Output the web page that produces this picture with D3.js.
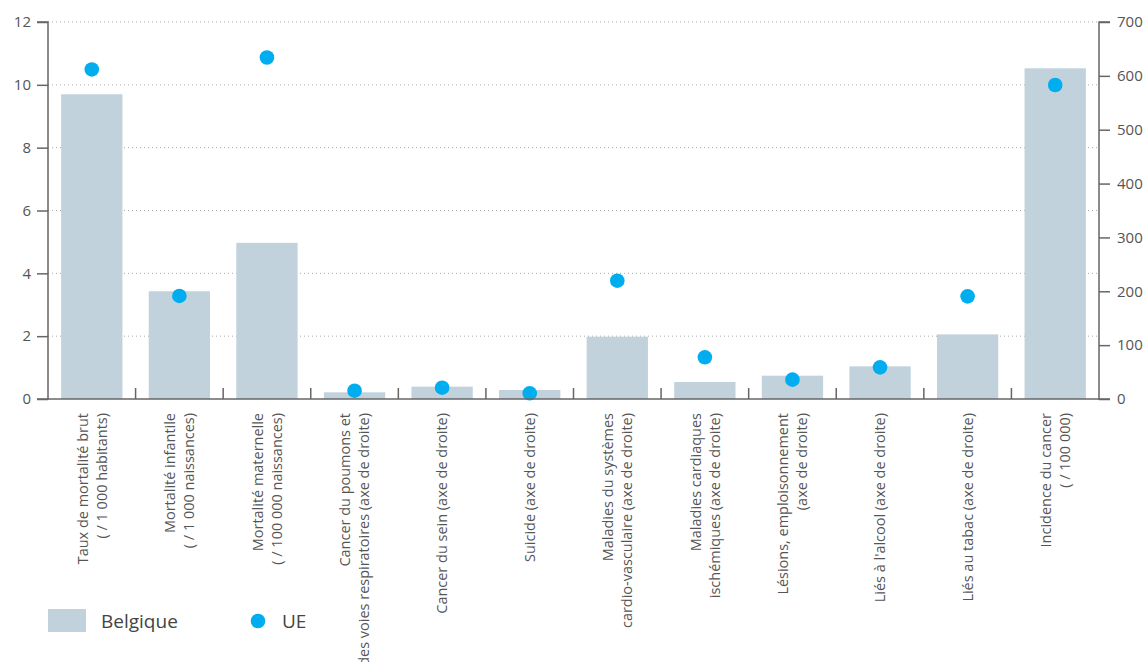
<!DOCTYPE html>
<html><head><meta charset="utf-8">
<script src="https://cdn.jsdelivr.net/npm/d3@7"></script>
<style>
body{margin:0;background:#fff;}
text{font-family:"Open Sans","Noto Sans",sans-serif;}
</style></head>
<body><svg id="c" width="1148" height="662"></svg>
<script>
const categories = [
  ["Taux de mortalité brut", "( / 1 000 habitants)"],
  ["Mortalité infantile", "( / 1 000 naissances)"],
  ["Mortalité maternelle", "( / 100 000 naissances)"],
  ["Cancer du poumons et", "des voies respiratoires (axe de droite)"],
  ["Cancer du sein (axe de droite)"],
  ["Suicide (axe de droite)"],
  ["Maladies du systèmes", "cardio-vasculaire (axe de droite)"],
  ["Maladies cardiaques", "ischémiques (axe de droite)"],
  ["Lésions, emploisonnement", "(axe de droite)"],
  ["Liés à l'alcool (axe de droite)"],
  ["Liés au tabac (axe de droite)"],
  ["Incidence du cancer", "( / 100 000)"]
];
const axisSide = ["left","left","left","right","right","right","right","right","right","right","right","right"];
const belgique = [9.7, 3.43, 4.97, 12.4, 22.9, 16.7, 115.7, 31.6, 43.3, 60.6, 120, 614];
const ue = [10.49, 3.28, 10.87, 15.4, 21, 10.6, 219.7, 77.4, 35.9, 58.8, 190.6, 583];
const leftTicks = [0, 2, 4, 6, 8, 10, 12];
const rightTicks = [0, 100, 200, 300, 400, 500, 600, 700];
const legendLabels = ["Belgique", "UE"];

const svg = d3.select("#c");
const L = 48, R = 1099, T = 22, B = 399;
const x = d3.scaleBand().domain(d3.range(categories.length)).range([L, R]).padding(0);
const yL = d3.scaleLinear().domain([0, 12]).range([B, T]);
const yR = d3.scaleLinear().domain([0, 700]).range([B, T]);
const ys = i => axisSide[i] === "left" ? yL : yR;
const barColor = "#c1d2dc", dotColor = "#00aeef", axisColor = "#666", textColor = "#555";

// grid
svg.append("g").selectAll("line").data(leftTicks.filter(d => d > 0)).join("line")
  .attr("x1", L).attr("x2", R).attr("y1", d => yL(d)).attr("y2", d => yL(d))
  .attr("stroke", "#aaa").attr("stroke-width", 1).attr("stroke-dasharray", "1,3");

// bars
const bw = x.bandwidth();
svg.append("g").selectAll("rect").data(belgique).join("rect")
  .attr("x", (d, i) => x(i) + bw * 0.15).attr("width", bw * 0.7)
  .attr("y", (d, i) => ys(i)(d)).attr("height", (d, i) => B - ys(i)(d))
  .attr("fill", barColor);

// dots
svg.append("g").selectAll("circle").data(ue).join("circle")
  .attr("cx", (d, i) => x(i) + bw / 2).attr("cy", (d, i) => ys(i)(d))
  .attr("r", 7.3).attr("fill", dotColor);

// left axis
const gl = svg.append("g").attr("transform", `translate(${L},0)`)
  .call(d3.axisLeft(yL).tickValues(leftTicks).tickSize(11).tickPadding(6).tickFormat(d3.format("d")));
// right axis
const gr = svg.append("g").attr("transform", `translate(${R},0)`)
  .call(d3.axisRight(yR).tickValues(rightTicks).tickSize(11).tickPadding(7).tickFormat(d3.format("d")));
[gl, gr].forEach(g => {
  g.select(".domain").attr("stroke", axisColor).attr("stroke-width", 1.5);
  g.selectAll(".tick line").attr("stroke", axisColor).attr("stroke-width", 1.5);
  g.selectAll(".tick text").attr("fill", textColor).style("font-size", "15px").attr("font-family", null);
});
gl.select(".domain").attr("d", `M-11,${T}H0V${B}H-11`);
gr.select(".domain").attr("d", `M11,${T}H0V${B}H11`);

// bottom axis line and separators
svg.append("line").attr("x1", L).attr("x2", R).attr("y1", B).attr("y2", B)
  .attr("stroke", axisColor).attr("stroke-width", 1.5);
svg.append("g").selectAll("line").data(d3.range(1, categories.length)).join("line")
  .attr("x1", d => x(d)).attr("x2", d => x(d)).attr("y1", B).attr("y2", B - 11)
  .attr("stroke", axisColor).attr("stroke-width", 1.5);

// category labels
let fs = 13.6;
const lab = svg.append("g").selectAll("text").data(categories).join("text")
  .attr("transform", (d, i) => `translate(${x(i) + bw / 2},413) rotate(-90)`)
  .attr("text-anchor", "end").attr("fill", textColor).style("font-size", fs + "px");
lab.each(function(lines) {
  const t = d3.select(this);
  const n = lines.length;
  lines.forEach((s, k) => {
    t.append("tspan").attr("x", 0).attr("y", (k - (n - 1) / 2) * 19).attr("dy", "0.36em").text(s);
  });
});
// fit font size to the reference label lengths (148px and 205px)
const n0 = lab.filter((d, i) => i === 0).select("tspan").node().getComputedTextLength();
const n4 = lab.filter((d, i) => i === 4).select("tspan").node().getComputedTextLength();
const k = ((148 / n0) + (205 / n4)) / 2;
lab.style("font-size", (fs * k) + "px");

// legend
const lg = svg.append("g");
lg.append("rect").attr("x", 48).attr("y", 609).attr("width", 38).attr("height", 23).attr("fill", barColor);
lg.append("text").attr("x", 101).attr("y", 621).attr("dy", "0.36em").attr("fill", "#444").style("font-size", "19px").text(legendLabels[0]);
lg.append("circle").attr("cx", 258).attr("cy", 621).attr("r", 7.3).attr("fill", dotColor);
lg.append("text").attr("x", 282).attr("y", 621).attr("dy", "0.36em").attr("fill", "#444").style("font-size", "19px").text(legendLabels[1]);
</script></body></html>
